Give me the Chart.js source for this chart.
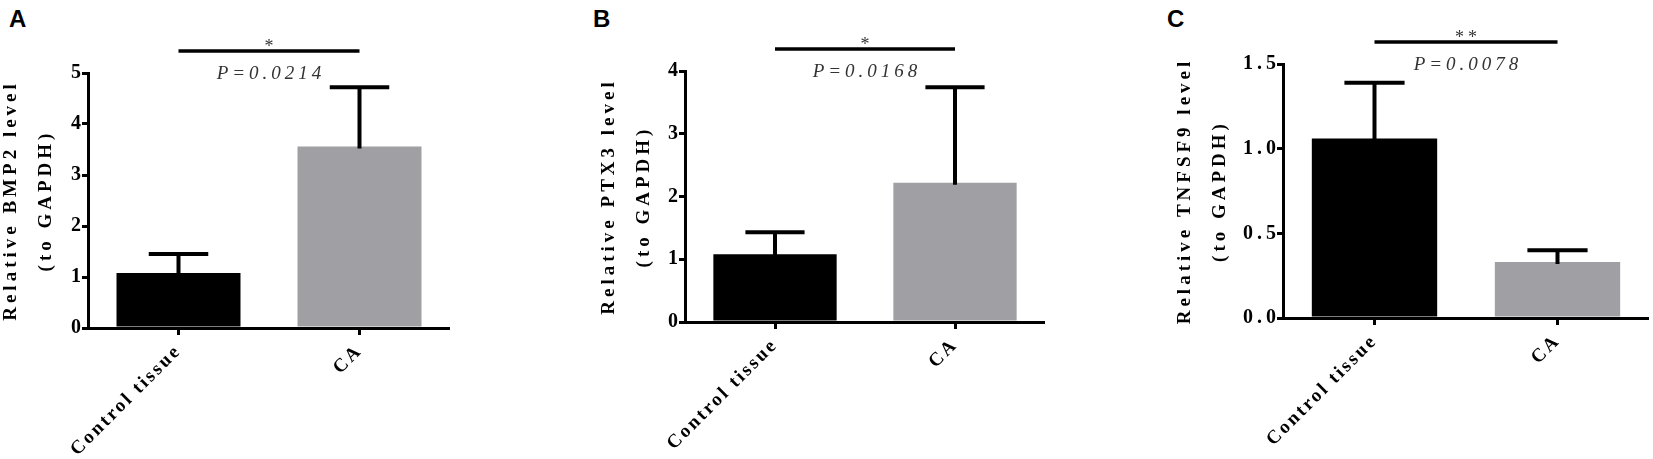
<!DOCTYPE html>
<html>
<head>
<meta charset="utf-8">
<script src="https://cdn.jsdelivr.net/npm/chart.js@4.4.1/dist/chart.umd.min.js"></script>
<style>
  html, body { margin: 0; padding: 0; background: #fff; }
  body { width: 1653px; height: 459px; position: relative; overflow: hidden; }
  .panel { position: absolute; top: 0; height: 459px; }
  .tag { position: absolute; top: 5px; line-height: 24px; font: bold 24px "Liberation Sans", Arial, sans-serif; color: #000; }
</style>
</head>
<body>
<div class="tag" style="left:9px">A</div>
<div class="tag" style="left:593px">B</div>
<div class="tag" style="left:1167px">C</div>
<div class="panel" style="left:-6px;width:456px"><canvas id="chartA"></canvas></div>
<div class="panel" style="left:592px;width:453px"><canvas id="chartB"></canvas></div>
<div class="panel" style="left:1168px;width:481px"><canvas id="chartC"></canvas></div>
<script>
const groups = ['Control tissue', 'CA'];
const barColors = ['#000000', '#a09fa4'];

// mean and upper error (SD) per group
const bmp2Mean = [1.08, 3.56];
const bmp2Err = [0.37, 1.16];
const ptx3Mean = [1.08, 2.22];
const ptx3Err = [0.35, 1.52];
const tnfsf9Mean = [1.06, 0.33];
const tnfsf9Err = [0.33, 0.07];

// y axis ranges: min, max, step
const bmp2Axis = [0, 5, 1];
const ptx3Axis = [0, 4, 1];
const tnfsf9Axis = [0, 1.5, 0.5];

const sigStars = ['*', '*', '**'];
const pValues = ['P=0.0214', 'P=0.0168', 'P=0.0078'];

const serif = '"Times New Roman", "Liberation Serif", "DejaVu Serif", serif';
Chart.defaults.font.family = serif;

const barExtras = {
  id: 'barExtras',
  beforeDraw(chart) {
    chart.ctx.letterSpacing = '4px';
  },
  beforeDatasetsDraw(chart) {
    chart.ctx.letterSpacing = '2.5px';
  },
  afterDatasetsDraw(chart, args, opts) {
    const ctx = chart.ctx;
    const y = chart.scales.y;
    const vals = chart.data.datasets[0].data;
    ctx.save();
    ctx.strokeStyle = '#000';
    ctx.lineWidth = 4;
    chart.getDatasetMeta(0).data.forEach((bar, i) => {
      const top = y.getPixelForValue(vals[i] + opts.errors[i]);
      const half = bar.width * 0.24;
      ctx.beginPath();
      ctx.moveTo(bar.x, y.getPixelForValue(vals[i]) + 2);
      ctx.lineTo(bar.x, top);
      ctx.moveTo(bar.x - half, top);
      ctx.lineTo(bar.x + half, top);
      ctx.stroke();
    });
    ctx.restore();
  },
  afterDraw(chart, args, opts) {
    const ctx = chart.ctx;
    const x = chart.scales.x;
    const area = chart.chartArea;
    const x0 = x.getPixelForValue(0);
    const x1 = x.getPixelForValue(1);
    const mid = (x0 + x1) / 2;
    const lineY = area.top - 22;
    ctx.save();
    ctx.strokeStyle = '#000';
    ctx.lineWidth = 3.5;
    ctx.beginPath();
    ctx.moveTo(x0, lineY);
    ctx.lineTo(x1, lineY);
    ctx.stroke();
    ctx.fillStyle = '#333';
    ctx.textAlign = 'center';
    ctx.textBaseline = 'alphabetic';
    ctx.letterSpacing = '4px';
    ctx.font = '18px ' + serif;
    ctx.fillText(opts.stars, mid + 2, lineY + 1);
    ctx.font = 'italic 19px ' + serif;
    ctx.fillText(opts.pText, mid + 2, area.top + 6);
    ctx.restore();
  }
};

function drawPanel(id, means, errors, axis, geneLabel, stars, pText, box) {
  const decimals = axis[2] < 1 ? 1 : 0;
  new Chart(document.getElementById(id), {
    type: 'bar',
    data: {
      labels: groups,
      datasets: [{
        data: means,
        backgroundColor: barColors,
        borderWidth: 0,
        categoryPercentage: 1,
        barPercentage: 0.685
      }]
    },
    options: {
      responsive: true,
      maintainAspectRatio: false,
      animation: false,
      layout: { padding: { top: box.top, left: 0, right: 0, bottom: 0 } },
      plugins: {
        legend: { display: false },
        tooltip: { enabled: false },
        barExtras: { errors: errors, stars: stars, pText: pText }
      },
      scales: {
        x: {
          afterFit: (s) => { s.height = box.xh; },
          grid: { drawOnChartArea: false, drawTicks: true, tickLength: 7, lineWidth: 3, color: '#000', offset: false },
          border: { color: '#000', width: 3 },
          ticks: {
            z: 1,
            autoSkip: false,
            minRotation: 45,
            maxRotation: 45,
            padding: 5,
            color: '#000',
            font: { family: serif, size: 19, weight: 'bold' }
          }
        },
        y: {
          min: axis[0],
          max: axis[1],
          afterFit: (s) => { s.width = box.yw; },
          grid: { drawOnChartArea: false, drawTicks: true, tickLength: 6, lineWidth: 3, color: '#000' },
          border: { color: '#000', width: 3 },
          ticks: {
            stepSize: axis[2],
            padding: -3,
            color: '#000',
            font: { family: serif, size: 20, weight: 'bold' },
            callback: (v) => v.toFixed(decimals)
          },
          title: {
            display: true,
            text: ['Relative ' + geneLabel + ' level', '(to GAPDH)'],
            color: '#000',
            padding: { top: 0, bottom: 0 },
            font: { family: serif, size: 19, weight: 'bold', lineHeight: 1.84 }
          }
        }
      }
    },
    plugins: [barExtras]
  });
}

drawPanel('chartA', bmp2Mean, bmp2Err, bmp2Axis, 'BMP2', sigStars[0], pValues[0], { top: 73, xh: 131, yw: 94 });
drawPanel('chartB', ptx3Mean, ptx3Err, ptx3Axis, 'PTX3', sigStars[1], pValues[1], { top: 71, xh: 137, yw: 93 });
drawPanel('chartC', tnfsf9Mean, tnfsf9Err, tnfsf9Axis, 'TNFSF9', sigStars[2], pValues[2], { top: 64, xh: 141, yw: 115 });
</script>
</body>
</html>
